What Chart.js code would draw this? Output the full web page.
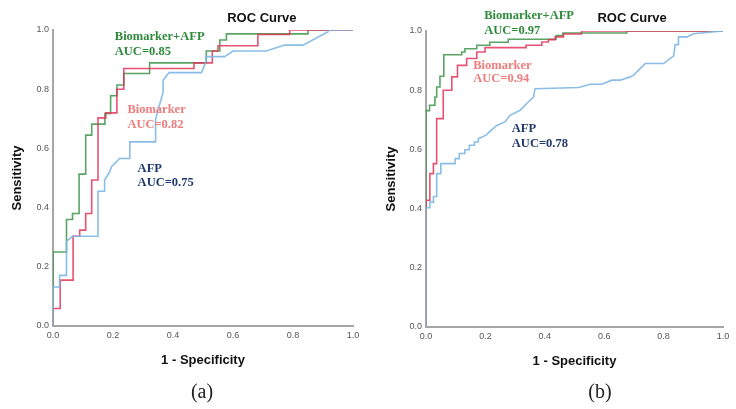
<!DOCTYPE html>
<html>
<head>
<meta charset="utf-8">
<script src="https://cdn.jsdelivr.net/npm/chart.js@4"></script>
<style>
  body { margin:0; background:#fff; width:736px; height:409px; overflow:hidden; position:relative; }
  canvas { position:absolute; top:0; }
  .cap { position:absolute; top:378px; width:100px; text-align:center; font:20px "Liberation Serif", serif; line-height:26px; color:#222; }
</style>
</head>
<body>
<canvas id="rocA" width="368" height="409" style="left:0"></canvas>
<canvas id="rocB" width="366" height="409" style="left:370px"></canvas>
<div class="cap" style="left:152px">(a)</div>
<div class="cap" style="left:550px">(b)</div>
<script>
    // Dados: (1 - especificidade, sensibilidade)
    const tickValues = [0, 0.2, 0.4, 0.6, 0.8, 1.0];
    const seriesNames = ["AFP", "Biomarker", "Biomarker+AFP"];

    // painel (a)
    const aAfpX = [0,0,0.022,0.022,0.045,0.045,0.065,0.15,0.15,0.172,0.172,0.189,0.195,0.222,0.256,0.256,0.342,0.342,0.367,0.367,0.387,0.495,0.51,0.51,0.572,0.6,0.711,0.772,0.833,0.917,0.917,1];
    const aAfpY = [0,0.132,0.132,0.171,0.171,0.286,0.303,0.303,0.455,0.455,0.493,0.521,0.538,0.566,0.566,0.622,0.622,0.70,0.79,0.83,0.856,0.856,0.893,0.91,0.91,0.929,0.929,0.949,0.949,0.994,1,1];
    const aBioX = [0,0,0.024,0.024,0.067,0.067,0.089,0.089,0.109,0.109,0.129,0.129,0.15,0.15,0.176,0.176,0.213,0.213,0.236,0.236,0.47,0.47,0.531,0.531,0.55,0.55,0.683,0.683,0.789,0.789,1];
    const aBioY = [0,0.059,0.059,0.155,0.155,0.303,0.303,0.324,0.324,0.38,0.38,0.493,0.493,0.703,0.703,0.72,0.72,0.80,0.80,0.87,0.87,0.889,0.889,0.929,0.929,0.947,0.947,0.985,0.985,1,1];
    const aCombX = [0,0,0.045,0.045,0.065,0.065,0.087,0.087,0.109,0.109,0.129,0.129,0.173,0.173,0.192,0.192,0.213,0.213,0.236,0.236,0.322,0.322,0.511,0.511,0.556,0.556,0.578,0.578,0.85,0.85,1];
    const aCombY = [0,0.25,0.25,0.36,0.36,0.38,0.38,0.513,0.513,0.645,0.645,0.682,0.682,0.718,0.718,0.778,0.778,0.814,0.814,0.853,0.853,0.889,0.889,0.929,0.929,0.966,0.966,0.987,0.987,1,1];
    const aAuc = ["AUC=0.75", "AUC=0.82", "AUC=0.85"];

    // painel (b)
    const bAfpX = [0,0,0.013,0.013,0.025,0.025,0.036,0.036,0.05,0.05,0.098,0.098,0.112,0.112,0.131,0.131,0.146,0.146,0.163,0.163,0.176,0.176,0.202,0.219,0.238,0.266,0.283,0.317,0.339,0.362,0.367,0.514,0.553,0.592,0.626,0.654,0.687,0.698,0.738,0.8,0.834,0.839,0.85,0.85,0.879,0.901,1];
    const bAfpY = [0,0.403,0.403,0.422,0.422,0.441,0.441,0.518,0.518,0.552,0.552,0.569,0.569,0.586,0.586,0.599,0.599,0.614,0.614,0.625,0.625,0.636,0.648,0.664,0.681,0.693,0.715,0.732,0.755,0.777,0.805,0.809,0.82,0.82,0.834,0.834,0.845,0.85,0.89,0.89,0.916,0.954,0.954,0.98,0.98,0.991,1];
    const bBioX = [0,0,0.013,0.013,0.025,0.025,0.036,0.036,0.058,0.058,0.087,0.087,0.106,0.106,0.137,0.137,0.171,0.171,0.199,0.199,0.337,0.337,0.39,0.39,0.412,0.412,0.435,0.435,0.463,0.463,0.524,0.524,1];
    const bBioY = [0,0.428,0.428,0.518,0.518,0.552,0.552,0.704,0.704,0.80,0.80,0.845,0.845,0.884,0.884,0.907,0.907,0.929,0.929,0.944,0.944,0.952,0.952,0.963,0.963,0.971,0.971,0.98,0.98,0.99,0.99,1,1];
    const bCombX = [0,0,0.012,0.012,0.03,0.03,0.036,0.036,0.047,0.047,0.06,0.06,0.12,0.12,0.131,0.131,0.171,0.171,0.215,0.215,0.277,0.277,0.438,0.438,0.461,0.461,0.676,0.676,1];
    const bCombY = [0,0.731,0.731,0.749,0.749,0.777,0.777,0.811,0.811,0.847,0.847,0.92,0.92,0.929,0.929,0.94,0.94,0.952,0.952,0.962,0.962,0.972,0.972,0.985,0.985,0.993,0.993,1,1];
    const bAuc = ["AUC=0.78", "AUC=0.94", "AUC=0.97"];

    // linhas um pouco transparentes para as sobreposições ficarem escuras como no original
    const lineColors = ["rgba(125,182,230,0.9)", "rgba(226,52,88,0.85)", "rgba(60,148,74,0.85)"];
    const textColors = ["#1f3a6b", "#ef7d7d", "#2e8b3c"];

    const pts = (xs, ys) => xs.map((x, i) => ({ x: x, y: ys[i] }));

    // textos anotados em coordenadas do gráfico
    const textos = {
      id: "textos",
      afterDraw(chart, args, opts) {
        const { ctx, scales: { x, y } } = chart;
        ctx.save();
        ctx.textBaseline = "middle";
        ctx.textAlign = "center";
        ctx.fillStyle = "#111";
        ctx.font = "bold 13px 'Liberation Sans', Arial, sans-serif";
        ctx.fillText("ROC Curve", x.getPixelForValue(opts.title[0]), y.getPixelForValue(opts.title[1]));
        ctx.textAlign = "left";
        ctx.font = "bold 12.5px 'Liberation Serif', serif";
        opts.labels.forEach((l, i) => {
          ctx.fillStyle = textColors[i];
          const px = x.getPixelForValue(l[0]);
          ctx.fillText(seriesNames[i], px, y.getPixelForValue(l[1]));
          ctx.fillText(opts.auc[i], px, y.getPixelForValue(l[2]));
        });
        ctx.restore();
      }
    };

    function eixo(titulo, tamanho, pad, horizontal) {
      return {
        type: "linear", min: 0, max: 1,
        grid: { display: false, drawTicks: false },
        border: { display: true, color: "#a6a6a6", width: 2 },
        ticks: {
          padding: 4, color: "#555",
          font: { size: 9, family: "'Liberation Sans', Arial, sans-serif" },
          callback: v => tickValues.includes(Math.round(v * 10) / 10) ? v.toFixed(1) : null,
          stepSize: 0.2
        },
        title: { display: true, text: titulo, color: "#111", padding: pad,
                 font: { size: 13, weight: "bold", family: "'Liberation Sans', Arial, sans-serif" } },
        afterFit: s => { if (horizontal) s.height = tamanho; else s.width = tamanho; }
      };
    }

    function roc(id, series, pad, yTitlePad, xTitlePad, yWidth, labels, auc, title) {
      new Chart(document.getElementById(id), {
        type: "line",
        data: {
          datasets: series.map((s, i) => ({
            label: seriesNames[i], data: s,
            borderColor: lineColors[i], borderWidth: 1.6,
            pointRadius: 0, tension: 0, fill: false
          }))
        },
        options: {
          responsive: false, animation: false,
          layout: { padding: pad },
          plugins: { legend: { display: false }, tooltip: { enabled: false },
                     textos: { labels: labels, auc: auc, title: title } },
          scales: {
            x: eixo("1 - Specificity", 50, { top: 0, bottom: xTitlePad }, true),
            y: eixo("Sensitivity", yWidth, { top: yTitlePad, bottom: 0 }, false)
          }
        },
        plugins: [textos]
      });
    }

    roc("rocA", [pts(aAfpX, aAfpY), pts(aBioX, aBioY), pts(aCombX, aCombY)],
        { left: 0, right: 15, top: 30, bottom: 33 }, 10, 8, 53,
        [[0.282, 0.53, 0.483], [0.248, 0.729, 0.679], [0.206, 0.976, 0.926]], aAuc, [0.696, 1.04]);

    roc("rocB", [pts(bAfpX, bAfpY), pts(bBioX, bBioY), pts(bCombX, bCombY)],
        { left: 0, right: 13, top: 31, bottom: 32 }, 14, 7.5, 56,
        [[0.289, 0.671, 0.62], [0.159, 0.884, 0.837], [0.196, 1.053, 1.0]], bAuc, [0.694, 1.043]);
</script>
</body>
</html>
